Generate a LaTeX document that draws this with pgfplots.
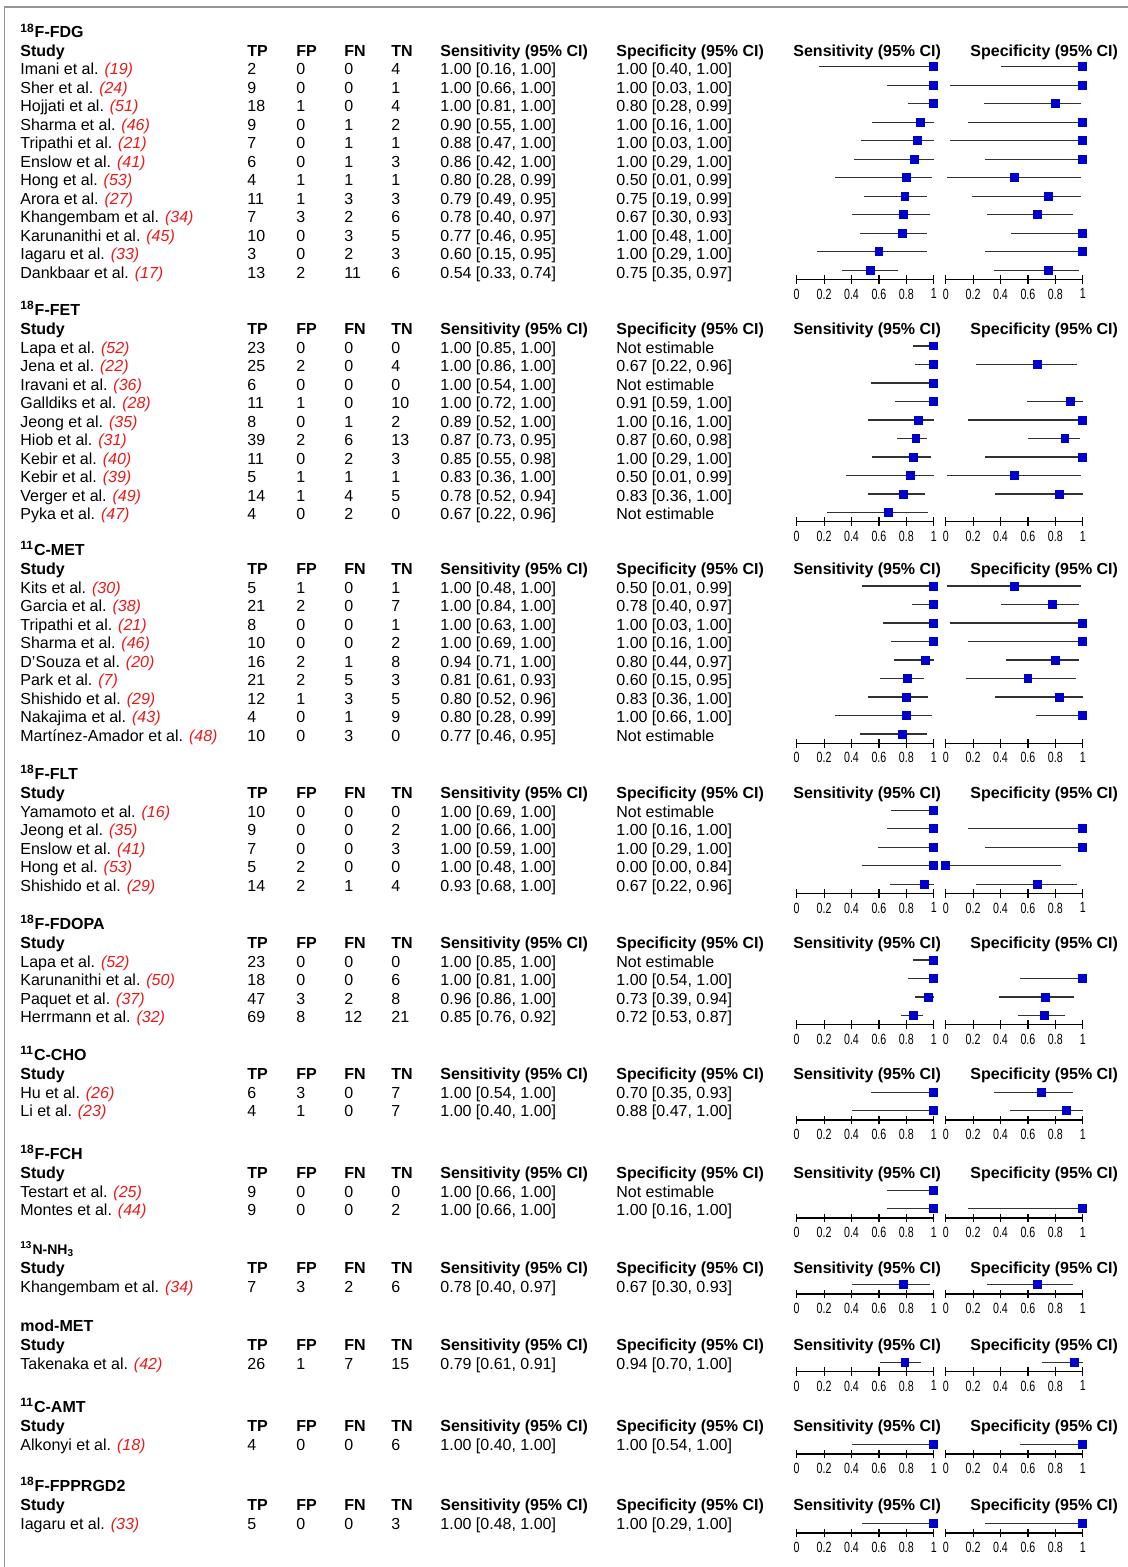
\documentclass[border=0pt]{standalone}
\usepackage{fontspec}
\setmainfont{Liberation Sans}
\usepackage{graphicx}
\usepackage{xcolor}
\usepackage{pgfplots}
\pgfplotsset{compat=1.18}
\definecolor{refred}{RGB}{235,25,25}
\definecolor{mkblue}{RGB}{0,0,204}
\definecolor{cigray}{RGB}{50,50,50}
\definecolor{bordergray}{RGB}{150,150,150}

\tikzset{txt/.style={anchor=base west, inner sep=0pt}}

\newcommand\grp[2]{%
  \node[txt,font=\bfseries] at (20,#1+5.5) {#2};
  \node[txt,font=\bfseries] at (20,#1+24.5) {Study};
  \node[txt,font=\bfseries] at (247,#1+24.5) {TP};
  \node[txt,font=\bfseries] at (296,#1+24.5) {FP};
  \node[txt,font=\bfseries] at (344,#1+24.5) {FN};
  \node[txt,font=\bfseries] at (391,#1+24.5) {TN};
  \node[txt,font=\bfseries] at (440,#1+24.5) {Sensitivity (95\% CI)};
  \node[txt,font=\bfseries] at (616,#1+24.5) {Specificity (95\% CI)};
  \node[txt,font=\bfseries] at (793,#1+24.5) {Sensitivity (95\% CI)};
  \node[txt,font=\bfseries] at (970,#1+24.5) {Specificity (95\% CI)};
}
\newcommand\row[9]{%
  \node[txt] at (20,#1+5.5) {#2 \textcolor{refred}{\textit{(#3)}}};
  \node[txt] at (247,#1+5.5) {#4};
  \node[txt] at (296,#1+5.5) {#5};
  \node[txt] at (344,#1+5.5) {#6};
  \node[txt] at (391,#1+5.5) {#7};
  \node[txt] at (440,#1+5.5) {#8};
  \node[txt] at (616,#1+5.5) {#9};
}

\pgfplotsset{
  forest/.style={
    x=68.5pt, y=9.25pt,
    xmin=0, xmax=1, ymin=0.5,
    anchor=south west,
    axis x line=bottom, axis y line=none,
    axis line style={-, black, line width=0.7pt},
    xtick={0,0.2,0.4,0.6,0.8,1}, ytick=\empty,
    xtick align=center, major tick length=4.4pt,
    tick style={black, line width=0.6pt},
    xticklabel={\scalebox{0.72}[1]{\pgfmathprintnumber[assume math mode=true]{\tick}}},
    xticklabel style={font=\fontsize{7.4}{8}\selectfont, inner sep=0pt, anchor=north, yshift=-2.2pt},
    clip=false,
  },
  ci/.style={only marks, mark=square*, mark size=1.95pt, color=mkblue,
    error bars/.cd, x dir=both, x explicit, error mark=none,
    error bar style={cigray, line width=0.7pt, solid}},
  table/citab/.style={x=e, y=r, x error plus expr=\thisrow{hi}-\thisrow{e},
    x error minus expr=\thisrow{e}-\thisrow{lo}, row sep=\\},
}

\begin{document}
\fontsize{8pt}{9.6pt}\selectfont
\begin{tikzpicture}
\begin{scope}[x=0.5pt,y=-0.5pt]
\path[use as bounding box] (0,0) rectangle (1128,1567);
\draw[bordergray, line width=0.75pt] (4.5,1567) -- (4.5,7) -- (1128,7);

% ---------- 18F-FDG
\grp{32.5}{\textsuperscript{18}F-FDG}
\row{69.5}{Imani et al.}{19}{2}{0}{0}{4}{1.00 [0.16, 1.00]}{1.00 [0.40, 1.00]}
\row{88}{Sher et al.}{24}{9}{0}{0}{1}{1.00 [0.66, 1.00]}{1.00 [0.03, 1.00]}
\row{106.5}{Hojjati et al.}{51}{18}{1}{0}{4}{1.00 [0.81, 1.00]}{0.80 [0.28, 0.99]}
\row{125}{Sharma et al.}{46}{9}{0}{1}{2}{0.90 [0.55, 1.00]}{1.00 [0.16, 1.00]}
\row{143.5}{Tripathi et al.}{21}{7}{0}{1}{1}{0.88 [0.47, 1.00]}{1.00 [0.03, 1.00]}
\row{162}{Enslow et al.}{41}{6}{0}{1}{3}{0.86 [0.42, 1.00]}{1.00 [0.29, 1.00]}
\row{180.5}{Hong et al.}{53}{4}{1}{1}{1}{0.80 [0.28, 0.99]}{0.50 [0.01, 0.99]}
\row{199}{Arora et al.}{27}{11}{1}{3}{3}{0.79 [0.49, 0.95]}{0.75 [0.19, 0.99]}
\row{217.5}{Khangembam et al.}{34}{7}{3}{2}{6}{0.78 [0.40, 0.97]}{0.67 [0.30, 0.93]}
\row{236}{Karunanithi et al.}{45}{10}{0}{3}{5}{0.77 [0.46, 0.95]}{1.00 [0.48, 1.00]}
\row{254.5}{Iagaru et al.}{33}{3}{0}{2}{3}{0.60 [0.15, 0.95]}{1.00 [0.29, 1.00]}
\row{273}{Dankbaar et al.}{17}{13}{2}{11}{6}{0.54 [0.33, 0.74]}{0.75 [0.35, 0.97]}

% ---------- 18F-FET
\grp{310}{\textsuperscript{18}F-FET}
\row{347.5}{Lapa et al.}{52}{23}{0}{0}{0}{1.00 [0.85, 1.00]}{Not estimable}
\row{366}{Jena et al.}{22}{25}{2}{0}{4}{1.00 [0.86, 1.00]}{0.67 [0.22, 0.96]}
\row{384.5}{Iravani et al.}{36}{6}{0}{0}{0}{1.00 [0.54, 1.00]}{Not estimable}
\row{403}{Galldiks et al.}{28}{11}{1}{0}{10}{1.00 [0.72, 1.00]}{0.91 [0.59, 1.00]}
\row{421.5}{Jeong et al.}{35}{8}{0}{1}{2}{0.89 [0.52, 1.00]}{1.00 [0.16, 1.00]}
\row{440}{Hiob et al.}{31}{39}{2}{6}{13}{0.87 [0.73, 0.95]}{0.87 [0.60, 0.98]}
\row{458.5}{Kebir et al.}{40}{11}{0}{2}{3}{0.85 [0.55, 0.98]}{1.00 [0.29, 1.00]}
\row{477}{Kebir et al.}{39}{5}{1}{1}{1}{0.83 [0.36, 1.00]}{0.50 [0.01, 0.99]}
\row{495.5}{Verger et al.}{49}{14}{1}{4}{5}{0.78 [0.52, 0.94]}{0.83 [0.36, 1.00]}
\row{514}{Pyka et al.}{47}{4}{0}{2}{0}{0.67 [0.22, 0.96]}{Not estimable}

% ---------- 11C-MET
\grp{550}{\textsuperscript{11}C-MET}
\row{587.5}{Kits et al.}{30}{5}{1}{0}{1}{1.00 [0.48, 1.00]}{0.50 [0.01, 0.99]}
\row{606}{Garcia et al.}{38}{21}{2}{0}{7}{1.00 [0.84, 1.00]}{0.78 [0.40, 0.97]}
\row{624.5}{Tripathi et al.}{21}{8}{0}{0}{1}{1.00 [0.63, 1.00]}{1.00 [0.03, 1.00]}
\row{643}{Sharma et al.}{46}{10}{0}{0}{2}{1.00 [0.69, 1.00]}{1.00 [0.16, 1.00]}
\row{661.5}{D'Souza et al.}{20}{16}{2}{1}{8}{0.94 [0.71, 1.00]}{0.80 [0.44, 0.97]}
\row{680}{Park et al.}{7}{21}{2}{5}{3}{0.81 [0.61, 0.93]}{0.60 [0.15, 0.95]}
\row{698.5}{Shishido et al.}{29}{12}{1}{3}{5}{0.80 [0.52, 0.96]}{0.83 [0.36, 1.00]}
\row{717}{Nakajima et al.}{43}{4}{0}{1}{9}{0.80 [0.28, 0.99]}{1.00 [0.66, 1.00]}
\row{735.5}{Martínez-Amador et al.}{48}{10}{0}{3}{0}{0.77 [0.46, 0.95]}{Not estimable}

% ---------- 18F-FLT
\grp{774}{\textsuperscript{18}F-FLT}
\row{811.5}{Yamamoto et al.}{16}{10}{0}{0}{0}{1.00 [0.69, 1.00]}{Not estimable}
\row{830}{Jeong et al.}{35}{9}{0}{0}{2}{1.00 [0.66, 1.00]}{1.00 [0.16, 1.00]}
\row{848.5}{Enslow et al.}{41}{7}{0}{0}{3}{1.00 [0.59, 1.00]}{1.00 [0.29, 1.00]}
\row{867}{Hong et al.}{53}{5}{2}{0}{0}{1.00 [0.48, 1.00]}{0.00 [0.00, 0.84]}
\row{885.5}{Shishido et al.}{29}{14}{2}{1}{4}{0.93 [0.68, 1.00]}{0.67 [0.22, 0.96]}

% ---------- 18F-FDOPA
\grp{924}{\textsuperscript{18}F-FDOPA}
\row{961.5}{Lapa et al.}{52}{23}{0}{0}{0}{1.00 [0.85, 1.00]}{Not estimable}
\row{980}{Karunanithi et al.}{50}{18}{0}{0}{6}{1.00 [0.81, 1.00]}{1.00 [0.54, 1.00]}
\row{998.5}{Paquet et al.}{37}{47}{3}{2}{8}{0.96 [0.86, 1.00]}{0.73 [0.39, 0.94]}
\row{1017}{Herrmann et al.}{32}{69}{8}{12}{21}{0.85 [0.76, 0.92]}{0.72 [0.53, 0.87]}

% ---------- 11C-CHO
\grp{1055}{\textsuperscript{11}C-CHO}
\row{1092.5}{Hu et al.}{26}{6}{3}{0}{7}{1.00 [0.54, 1.00]}{0.70 [0.35, 0.93]}
\row{1111}{Li et al.}{23}{4}{1}{0}{7}{1.00 [0.40, 1.00]}{0.88 [0.47, 1.00]}

% ---------- 18F-FCH
\grp{1154}{\textsuperscript{18}F-FCH}
\row{1191.5}{Testart et al.}{25}{9}{0}{0}{0}{1.00 [0.66, 1.00]}{Not estimable}
\row{1210}{Montes et al.}{44}{9}{0}{0}{2}{1.00 [0.66, 1.00]}{1.00 [0.16, 1.00]}

% ---------- 13N-NH3
\grp{1249}{\fontsize{7pt}{8pt}\selectfont\textsuperscript{13}N-NH\textsubscript{3}}
\row{1286.5}{Khangembam et al.}{34}{7}{3}{2}{6}{0.78 [0.40, 0.97]}{0.67 [0.30, 0.93]}

% ---------- mod-MET
\grp{1326}{mod-MET}
\row{1363.5}{Takenaka et al.}{42}{26}{1}{7}{15}{0.79 [0.61, 0.91]}{0.94 [0.70, 1.00]}

% ---------- 11C-AMT
\grp{1407}{\textsuperscript{11}C-AMT}
\row{1444.5}{Alkonyi et al.}{18}{4}{0}{0}{6}{1.00 [0.40, 1.00]}{1.00 [0.54, 1.00]}

% ---------- 18F-FPPRGD2
\grp{1486}{\textsuperscript{18}F-FPPRGD2}
\row{1523.5}{Iagaru et al.}{33}{5}{0}{0}{3}{1.00 [0.48, 1.00]}{1.00 [0.29, 1.00]}
\end{scope}

% ================= forest plots =================
% G1 FDG (12 rows), axis line at 279.5 px
\begin{axis}[forest, ymax=12.5, at={(398.35pt,-139.75pt)}]
\addplot[ci] table[citab] {r e lo hi\\ 12 1.00 0.16 1.00\\ 11 1.00 0.66 1.00\\ 10 1.00 0.81 1.00\\ 9 0.90 0.55 1.00\\ 8 0.88 0.47 1.00\\ 7 0.86 0.42 1.00\\ 6 0.80 0.28 0.99\\ 5 0.79 0.49 0.95\\ 4 0.78 0.40 0.97\\ 3 0.77 0.46 0.95\\ 2 0.60 0.15 0.95\\ 1 0.54 0.33 0.74\\};
\end{axis}
\begin{axis}[forest, ymax=12.5, at={(472.85pt,-139.75pt)}]
\addplot[ci] table[citab] {r e lo hi\\ 12 1.00 0.40 1.00\\ 11 1.00 0.03 1.00\\ 10 0.80 0.28 0.99\\ 9 1.00 0.16 1.00\\ 8 1.00 0.03 1.00\\ 7 1.00 0.29 1.00\\ 6 0.50 0.01 0.99\\ 5 0.75 0.19 0.99\\ 4 0.67 0.30 0.93\\ 3 1.00 0.48 1.00\\ 2 1.00 0.29 1.00\\ 1 0.75 0.35 0.97\\};
\end{axis}

% G2 FET (10 rows), axis at 521.75 px
\begin{axis}[forest, ymax=10.5, at={(398.35pt,-260.875pt)}]
\addplot[ci] table[citab] {r e lo hi\\ 10 1.00 0.85 1.00\\ 9 1.00 0.86 1.00\\ 8 1.00 0.54 1.00\\ 7 1.00 0.72 1.00\\ 6 0.89 0.52 1.00\\ 5 0.87 0.73 0.95\\ 4 0.85 0.55 0.98\\ 3 0.83 0.36 1.00\\ 2 0.78 0.52 0.94\\ 1 0.67 0.22 0.96\\};
\end{axis}
\begin{axis}[forest, ymax=10.5, at={(472.85pt,-260.875pt)}]
\addplot[ci] table[citab] {r e lo hi\\ 9 0.67 0.22 0.96\\ 7 0.91 0.59 1.00\\ 6 1.00 0.16 1.00\\ 5 0.87 0.60 0.98\\ 4 1.00 0.29 1.00\\ 3 0.50 0.01 0.99\\ 2 0.83 0.36 1.00\\};
\end{axis}

% G3 MET (9 rows), axis at 743.25 px
\begin{axis}[forest, ymax=9.5, at={(398.35pt,-371.625pt)}]
\addplot[ci] table[citab] {r e lo hi\\ 9 1.00 0.48 1.00\\ 8 1.00 0.84 1.00\\ 7 1.00 0.63 1.00\\ 6 1.00 0.69 1.00\\ 5 0.94 0.71 1.00\\ 4 0.81 0.61 0.93\\ 3 0.80 0.52 0.96\\ 2 0.80 0.28 0.99\\ 1 0.77 0.46 0.95\\};
\end{axis}
\begin{axis}[forest, ymax=9.5, at={(472.85pt,-371.625pt)}]
\addplot[ci] table[citab] {r e lo hi\\ 9 0.50 0.01 0.99\\ 8 0.78 0.40 0.97\\ 7 1.00 0.03 1.00\\ 6 1.00 0.16 1.00\\ 5 0.80 0.44 0.97\\ 4 0.60 0.15 0.95\\ 3 0.83 0.36 1.00\\ 2 1.00 0.66 1.00\\};
\end{axis}

% G4 FLT (5 rows), axis at 893.5 px
\begin{axis}[forest, ymax=5.5, at={(398.35pt,-446.75pt)}]
\addplot[ci] table[citab] {r e lo hi\\ 5 1.00 0.69 1.00\\ 4 1.00 0.66 1.00\\ 3 1.00 0.59 1.00\\ 2 1.00 0.48 1.00\\ 1 0.93 0.68 1.00\\};
\end{axis}
\begin{axis}[forest, ymax=5.5, at={(472.85pt,-446.75pt)}]
\addplot[ci] table[citab] {r e lo hi\\ 4 1.00 0.16 1.00\\ 3 1.00 0.29 1.00\\ 2 0.00 0.00 0.84\\ 1 0.67 0.22 0.96\\};
\end{axis}

% G5 FDOPA (4 rows), axis at 1024.75 px
\begin{axis}[forest, ymax=4.5, at={(398.35pt,-512.375pt)}]
\addplot[ci] table[citab] {r e lo hi\\ 4 1.00 0.85 1.00\\ 3 1.00 0.81 1.00\\ 2 0.96 0.86 1.00\\ 1 0.85 0.76 0.92\\};
\end{axis}
\begin{axis}[forest, ymax=4.5, at={(472.85pt,-512.375pt)}]
\addplot[ci] table[citab] {r e lo hi\\ 3 1.00 0.54 1.00\\ 2 0.73 0.39 0.94\\ 1 0.72 0.53 0.87\\};
\end{axis}

% G6 CHO (2 rows), axis at 1120 px
\begin{axis}[forest, ymax=2.5, at={(398.35pt,-560pt)}]
\addplot[ci] table[citab] {r e lo hi\\ 2 1.00 0.54 1.00\\ 1 1.00 0.40 1.00\\};
\end{axis}
\begin{axis}[forest, ymax=2.5, at={(472.85pt,-560pt)}]
\addplot[ci] table[citab] {r e lo hi\\ 2 0.70 0.35 0.93\\ 1 0.88 0.47 1.00\\};
\end{axis}

% G7 FCH (2 rows), axis at 1218 px
\begin{axis}[forest, ymax=2.5, at={(398.35pt,-609pt)}]
\addplot[ci] table[citab] {r e lo hi\\ 2 1.00 0.66 1.00\\ 1 1.00 0.66 1.00\\};
\end{axis}
\begin{axis}[forest, ymax=2.5, at={(472.85pt,-609pt)}]
\addplot[ci] table[citab] {r e lo hi\\ 1 1.00 0.16 1.00\\};
\end{axis}

% G8 NH3 (1 row), axis at 1294 px
\begin{axis}[forest, ymax=1.5, at={(398.35pt,-647pt)}]
\addplot[ci] table[citab] {r e lo hi\\ 1 0.78 0.40 0.97\\};
\end{axis}
\begin{axis}[forest, ymax=1.5, at={(472.85pt,-647pt)}]
\addplot[ci] table[citab] {r e lo hi\\ 1 0.67 0.30 0.93\\};
\end{axis}

% G9 mod-MET (1 row), axis at 1371.5 px
\begin{axis}[forest, ymax=1.5, at={(398.35pt,-685.75pt)}]
\addplot[ci] table[citab] {r e lo hi\\ 1 0.79 0.61 0.91\\};
\end{axis}
\begin{axis}[forest, ymax=1.5, at={(472.85pt,-685.75pt)}]
\addplot[ci] table[citab] {r e lo hi\\ 1 0.94 0.70 1.00\\};
\end{axis}

% G10 AMT (1 row), axis at 1454 px
\begin{axis}[forest, ymax=1.5, at={(398.35pt,-727pt)}]
\addplot[ci] table[citab] {r e lo hi\\ 1 1.00 0.40 1.00\\};
\end{axis}
\begin{axis}[forest, ymax=1.5, at={(472.85pt,-727pt)}]
\addplot[ci] table[citab] {r e lo hi\\ 1 1.00 0.54 1.00\\};
\end{axis}

% G11 FPPRGD2 (1 row), axis at 1533 px
\begin{axis}[forest, ymax=1.5, at={(398.35pt,-766.5pt)}]
\addplot[ci] table[citab] {r e lo hi\\ 1 1.00 0.48 1.00\\};
\end{axis}
\begin{axis}[forest, ymax=1.5, at={(472.85pt,-766.5pt)}]
\addplot[ci] table[citab] {r e lo hi\\ 1 1.00 0.29 1.00\\};
\end{axis}
\end{tikzpicture}
\end{document}
